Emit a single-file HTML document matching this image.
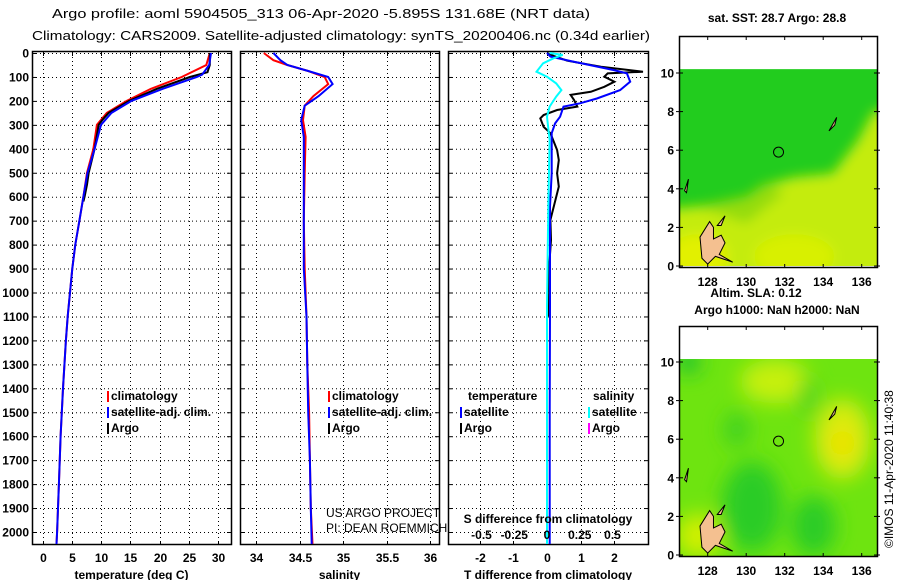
<!DOCTYPE html>
<html><head><meta charset="utf-8"><style>
html,body{margin:0;padding:0;background:#fff;}
svg{display:block;font-family:"Liberation Sans",sans-serif;}
.t{font-weight:bold;font-size:12px;fill:#000;}
.g{stroke:#000;stroke-width:1;stroke-dasharray:1,3;}
</style></head><body>
<svg id="c" width="900" height="580" viewBox="0 0 900 580">
<defs>
<filter id="bl" x="-20%" y="-20%" width="140%" height="140%"><feGaussianBlur stdDeviation="6"/></filter>
<filter id="bl2" x="-20%" y="-20%" width="140%" height="140%"><feGaussianBlur stdDeviation="10"/></filter>
<clipPath id="m1"><rect x="680" y="69" width="197" height="197"/></clipPath>
<clipPath id="m2"><rect x="680" y="359" width="197" height="197"/></clipPath>
</defs>
<text x="52" y="18" font-size="13" textLength="538" lengthAdjust="spacingAndGlyphs">Argo profile: aoml 5904505_313 06-Apr-2020 -5.895S 131.68E (NRT data)</text>
<text x="32" y="40" font-size="13" textLength="618" lengthAdjust="spacingAndGlyphs">Climatology: CARS2009. Satellite-adjusted climatology: synTS_20200406.nc (0.34d earlier)</text>
<g id="plots"></g>
<g id="maps"></g>
<text transform="translate(893,548) rotate(-90)" font-size="12">©IMOS 11-Apr-2020 11:40:38</text>
</svg>
<script>
// ---- data ----
const depthTicks = [0,100,200,300,400,500,600,700,800,900,1000,1100,1200,1300,1400,1500,1600,1700,1800,1900,2000];
const tempTicks = [0,5,10,15,20,25,30];
const salTicks = [34,34.5,35,35.5,36];
const tdTicks = [-2,-1,0,1,2];
const sdTicks = [-0.5,-0.25,0,0.25,0.5];
const sdTickLabels = ['-0.5','-0.25','0','0.25','0.5'];

const tClimDepth = [0,50,100,150,200,250,300,400,500,600,700,800,900,1000,1100,1200,1400,1600,1800,2000,2050];
const tClimVal   = [28.6,28.0,23.8,18.5,14.4,11.0,9.3,8.7,7.6,7.0,6.3,5.6,5.1,4.7,4.3,4.0,3.5,3.1,2.8,2.5,2.4];
const tSatDepth  = [0,50,90,100,150,200,250,300,400,500,600,700,800,900,1000,1100,1200,1400,1600,1800,2000,2050];
const tSatVal    = [28.8,28.5,27.3,26.4,20.5,15.2,11.8,10.0,8.9,7.7,7.0,6.3,5.6,5.1,4.7,4.3,4.0,3.5,3.1,2.8,2.5,2.4];
const tArgoDepth = [0,50,80,100,150,200,250,280,300,400,500,550,600,620];
const tArgoVal   = [28.6,28.6,28.2,25.2,19.5,14.8,11.3,10.2,9.6,8.9,7.9,7.6,7.2,7.0];

const sClimDepth = [0,30,50,75,100,130,180,220,280,350,500,700,900,1100,1300,1500,1700,1900,2050];
const sClimVal   = [34.09,34.2,34.36,34.6,34.79,34.83,34.66,34.56,34.54,34.57,34.56,34.55,34.56,34.58,34.59,34.61,34.62,34.63,34.65];
const sSatDepth  = [0,30,50,75,100,130,180,220,280,350,500,700,900,1100,1300,1500,1700,1900,2050];
const sSatVal    = [34.2,34.28,34.36,34.6,34.83,34.88,34.72,34.56,34.52,34.55,34.55,34.55,34.55,34.58,34.59,34.6,34.62,34.63,34.64];

const dArgoDepth = [0,12,32,57,78,85,99,120,141,162,175,196,224,238,259,273,308,335,405,447,502,558,614,697,781,920,1100];
const dArgoVal   = [0,0.2,0.6,1.6,2.85,1.8,1.7,2.0,1.7,1.3,0.7,0.8,0.9,0.3,-0.1,-0.2,-0.1,0.1,0.3,0.35,0.3,0.35,0.25,0.1,0.12,0.05,0.05];
const dSatDepth  = [0,15,36,71,85,120,155,190,210,224,266,294,335,377,502,641,1058,1500,2050];
const dSatVal    = [0,0.1,0.78,1.97,2.37,2.47,2.17,1.48,0.98,0.49,0.39,0.24,0.14,0.14,0.14,0.09,0.09,0.08,0.08];
const sdSatDepth = [0,8,22,43,78,99,127,155,182,224,266,363,641,1058,1500,2050];
const sdSatVal   = [0.02,0.12,0.05,-0.03,-0.08,0,0.07,0.11,0.07,0.02,0,0.02,0.01,0,0,0];

const NS='http://www.w3.org/2000/svg';
function mk(tag, attrs, parent){const e=document.createElementNS(NS,tag);for(const k in attrs)e.setAttribute(k,attrs[k]);parent.appendChild(e);return e;}
const plots=document.getElementById('plots');
const top0=53, bot=545, kD=0.2395;
const yD=d=>top0+d*kD;
const panels=[
 {x0:32,x1:231,xs:v=>42.5+v*5.85,ticks:tempTicks,labels:tempTicks.map(String),title:'temperature (deg C)',name:'temperature'},
 {x0:240,x1:439,xs:v=>256+(v-34)*87,ticks:salTicks,labels:salTicks.map(String),title:'salinity',name:'salinity'},
 {x0:448,x1:648,xs:v=>547+v*33.7,ticks:tdTicks,labels:tdTicks.map(String),title:'T difference from climatology',name:'difference'}
];
const xsS=v=>547+v*131;
panels.forEach((p,i)=>{
  const g=mk('g',{},plots);
  
  
  depthTicks.forEach(d=>{mk('line',{x1:p.x0,x2:p.x1,y1:yD(d)+.5,y2:yD(d)+.5,class:'g'},g);
    mk('line',{x1:p.x0,x2:p.x0+4,y1:yD(d)+.5,y2:yD(d)+.5,stroke:'#000'},g);
    mk('line',{x1:p.x1-4,x2:p.x1,y1:yD(d)+.5,y2:yD(d)+.5,stroke:'#000'},g);
    if(i===0){const t=mk('text',{x:29,y:yD(d)+4.5,'text-anchor':'end',class:'t'},g);t.textContent=String(d);
      
      }
  });
  p.ticks.forEach((v,j)=>{const x=Math.round(p.xs(v))+.5;
    mk('line',{x1:x,x2:x,y1:top0,y2:bot,class:'g'},g);
    mk('line',{x1:x,x2:x,y1:bot-4,y2:bot,stroke:'#000'},g);
    mk('line',{x1:x,x2:x,y1:top0-1,y2:top0+3,stroke:'#000'},g);
    const t=mk('text',{x:x,y:562,'text-anchor':'middle',class:'t'},g);t.textContent=p.labels[j];
    
    
  });
  mk('rect',{x:p.x0+.5,y:top0-1.5,width:p.x1-p.x0,height:bot-top0+1,fill:'none',stroke:'#000','stroke-width':1.5},g);
  const tt=mk('text',{x:(p.x0+p.x1)/2,y:579,'text-anchor':'middle',class:'t'},g);tt.textContent=p.title;
  
  
  p.g=g;
});
function line(g,xs,D,V,col,name){
  const pts=D.map((d,i)=>xs(V[i]).toFixed(1)+','+yD(d).toFixed(1)).join(' ');
  const e=mk('polyline',{points:pts,fill:'none',stroke:col,'stroke-width':2},g);
  
  
}
const P=panels;
line(P[0].g,P[0].xs,tClimDepth,tClimVal,'#f00','temp-climatology-line');
line(P[0].g,P[0].xs,tArgoDepth,tArgoVal,'#000','temp-argo-line');
line(P[0].g,P[0].xs,tSatDepth,tSatVal,'#00f','temp-satellite-line');
line(P[1].g,P[1].xs,sClimDepth,sClimVal,'#f00','sal-climatology-line');
line(P[1].g,P[1].xs,sSatDepth,sSatVal,'#00f','sal-satellite-line');
line(P[2].g,P[2].xs,dArgoDepth,dArgoVal,'#000','tdiff-argo-line');
line(P[2].g,P[2].xs,dSatDepth,dSatVal,'#00f','tdiff-satellite-line');
line(P[2].g,xsS,sdSatDepth,sdSatVal,'#0ff','sdiff-satellite-line');
// S diff axis labels inside panel
const sdt=mk('text',{x:548,y:523,'text-anchor':'middle',class:'t'},P[2].g);sdt.textContent='S difference from climatology';


sdTicks.forEach((v,j)=>{const t=mk('text',{x:xsS(v),y:539,'text-anchor':'middle',class:'t'},P[2].g);t.textContent=sdTickLabels[j];
  
  });
// legends
function leg(g,x,y,col,txt,name){
  mk('rect',{x:x,y:y-9,width:2,height:11,fill:col},g);
  const t=mk('text',{x:x+4,y:y,class:'t','font-weight':'normal'},g);t.textContent=txt;t.setAttribute('font-weight','bold');
  
  
}
leg(P[0].g,107,400,'#f00','climatology','legend-climatology');
leg(P[0].g,107,416,'#00f','satellite-adj. clim.','legend-satellite-adj');
leg(P[0].g,107,432,'#000','Argo','legend-argo');
leg(P[1].g,328,400,'#f00','climatology','legend-climatology');
leg(P[1].g,328,416,'#00f','satellite-adj. clim.','legend-satellite-adj');
leg(P[1].g,328,432,'#000','Argo','legend-argo');
const lt=mk('text',{x:468,y:400,class:'t'},P[2].g);lt.textContent='temperature';
const ls=mk('text',{x:593,y:400,class:'t'},P[2].g);ls.textContent='salinity';
leg(P[2].g,460,416,'#00f','satellite','legend-t-satellite');
leg(P[2].g,460,432,'#000','Argo','legend-t-argo');
leg(P[2].g,588,416,'#0ff','satellite','legend-s-satellite');
leg(P[2].g,588,432,'#f0f','Argo','legend-s-argo');
const c1=mk('text',{x:326,y:517,'font-size':12},P[1].g);c1.textContent='US ARGO PROJECT';
const c2=mk('text',{x:326,y:532,'font-size':12},P[1].g);c2.textContent='PI: DEAN ROEMMICH';

// ---- maps ----
const lonTicks=[128,130,132,134,136];
const latTicks=[0,2,4,6,8,10];
const maps=document.getElementById('maps');
const mx=lon=>707.7+(lon-128)*19.25;
function drawMap(yTop,y0,title,clip,kind){
  const ly=lat=>y0-lat*19.3;
  const g=mk('g',{},maps);
  
  
  const dg=mk('g',{'clip-path':'url(#'+clip+')'},g);
  if(kind==='sst'){
    mk('rect',{x:680,y:ly(10.2),width:200,height:210,fill:'#22cc1e'},dg);
    const f=mk('g',{filter:'url(#bl)'},dg);
    mk('path',{d:`M660 ${ly(2.9)} L${mx(129.5)} ${ly(3.3)} L${mx(131)} ${ly(4.2)} L${mx(132.5)} ${ly(4.6)} L${mx(134.5)} ${ly(4.8)} L${mx(135.8)} ${ly(6.5)} L${mx(136.6)} ${ly(8)} L900 ${ly(8.3)} L900 300 L660 300Z`,fill:'#c4ec08'},f);
    mk('path',{d:`M${mx(127.5)} ${ly(3.1)} L${mx(130)} ${ly(3.6)} L${mx(131)} ${ly(4.3)} L${mx(132)} ${ly(3.8)} L${mx(130)} ${ly(2.2)} Z`,fill:'#94dc10'},f);
    mk('ellipse',{cx:mx(127.5),cy:ly(0.5),rx:30,ry:22,fill:'#e2f000'},f);
    mk('ellipse',{cx:mx(132.5),cy:ly(0.5),rx:40,ry:22,fill:'#d8f000'},f);
  } else {
    mk('rect',{x:680,y:ly(10.2),width:200,height:210,fill:'#6ee410'},dg);
    const f=mk('g',{filter:'url(#bl2)'},dg);
    mk('ellipse',{cx:mx(131.5),cy:ly(9),rx:35,ry:22,fill:'#c6f010'},f);
    mk('ellipse',{cx:mx(135),cy:ly(6),rx:28,ry:40,fill:'#d8ec10'},f);
    mk('ellipse',{cx:mx(135),cy:ly(5.8),rx:12,ry:14,fill:'#f0e000'},f);
    mk('ellipse',{cx:mx(130.3),cy:ly(2.5),rx:30,ry:45,fill:'#2ccc28'},f);
    mk('ellipse',{cx:mx(133.5),cy:ly(1.5),rx:22,ry:30,fill:'#2ccc28'},f);
    mk('ellipse',{cx:mx(129.5),cy:ly(6.5),rx:12,ry:18,fill:'#3cd020'},f);
    mk('ellipse',{cx:mx(133.2),cy:ly(8.2),rx:8,ry:20,fill:'#3cd020'},f);
    mk('ellipse',{cx:mx(127),cy:ly(10),rx:12,ry:12,fill:'#1ebf30'},f);
    mk('ellipse',{cx:mx(127.5),cy:ly(1),rx:22,ry:22,fill:'#d0f000'},f);
  }
  // land
  const land=`M${mx(127.7)} ${ly(0.4)} L${mx(127.6)} ${ly(1.5)} L${mx(128.1)} ${ly(2.3)} L${mx(128.3)} ${ly(2)} L${mx(128.3)} ${ly(1.4)} L${mx(128.7)} ${ly(1.6)} L${mx(128.9)} ${ly(1.2)} L${mx(128.6)} ${ly(0.6)} L${mx(129.3)} ${ly(0.2)} L${mx(128.4)} ${ly(0.5)} L${mx(128)} ${ly(0.1)} Z M${mx(128.5)} ${ly(2.1)} L${mx(128.9)} ${ly(2.6)} L${mx(128.7)} ${ly(2.1)} Z`;
  mk('path',{d:land,fill:'#f4c090',stroke:'#000','stroke-width':1},dg);
  mk('path',{d:`M${mx(134.3)} ${ly(7.0)} L${mx(134.7)} ${ly(7.7)} L${mx(134.6)} ${ly(7.3)} Z`,fill:'#f4c090',stroke:'#000'},dg);
  mk('path',{d:`M${mx(126.8)} ${ly(3.9)} L${mx(127)} ${ly(4.5)} L${mx(126.9)} ${ly(3.8)}Z`,fill:'#f4c090',stroke:'#000'},dg);
  const c=mk('circle',{cx:mx(131.68),cy:ly(5.9),r:5,fill:'none',stroke:'#000'},g);
  
  
  mk('rect',{x:679.5,y:yTop+.5,width:198,height:y0-yTop+1,fill:'none',stroke:'#000','stroke-width':1.5},g);
  lonTicks.forEach(l=>{const x=mx(l);
    mk('line',{x1:x,x2:x,y1:yTop,y2:yTop+4,stroke:'#000'},g);
    mk('line',{x1:x,x2:x,y1:y0+2,y2:y0-2,stroke:'#000'},g);
    const t=mk('text',{x:x,y:y0+20,'text-anchor':'middle',class:'t'},g);t.textContent=String(l);
    
    });
  latTicks.forEach(l=>{const y=ly(l);
    mk('line',{x1:676,x2:683,y1:y,y2:y,stroke:'#000'},g);
    mk('line',{x1:874,x2:880,y1:y,y2:y,stroke:'#000'},g);
    const t=mk('text',{x:674,y:y+4.5,'text-anchor':'end',class:'t'},g);t.textContent=String(l);
    
    });
  title.forEach((s,i)=>{const t=mk('text',{x:s[1],y:s[2],'text-anchor':'middle',class:'t'},g);t.textContent=s[0];
    
    });
}
drawMap(36,266,[['sat. SST: 28.7 Argo: 28.8',777,22]],'m1','sst');
drawMap(326,555,[['Altim. SLA: 0.12',756,297],['Argo h1000: NaN h2000: NaN',777,314]],'m2','sla');
</script>
</body></html>
